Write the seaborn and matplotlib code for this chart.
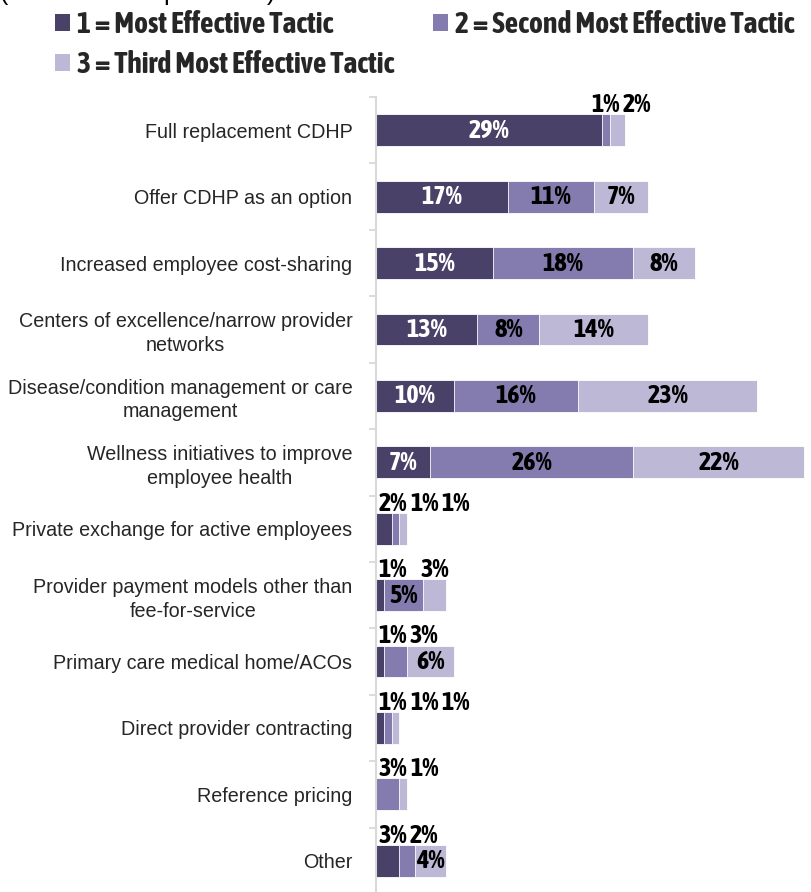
import numpy as np
import matplotlib
matplotlib.use("Agg")
import matplotlib.pyplot as plt
from matplotlib.patches import Patch
from matplotlib import font_manager
import seaborn as sns

# values (percent of respondents)
tactics = [
    "Full replacement CDHP",
    "Offer CDHP as an option",
    "Increased employee cost-sharing",
    "Centers of excellence/narrow provider\nnetworks",
    "Disease/condition management or care\nmanagement",
    "Wellness initiatives to improve\nemployee health",
    "Private exchange for active employees",
    "Provider payment models other than\nfee-for-service",
    "Primary care medical home/ACOs",
    "Direct provider contracting",
    "Reference pricing",
    "Other",
]
most_effective = [29, 17, 15, 13, 10, 7, 2, 1, 1, 1, 0, 3]
second_effective = [1, 11, 18, 8, 16, 26, 1, 5, 3, 1, 3, 2]
third_effective = [2, 7, 8, 14, 23, 22, 1, 3, 6, 1, 1, 4]
series_names = [
    "1 = Most Effective Tactic",
    "2 = Second Most Effective Tactic",
    "3 = Third Most Effective Tactic",
]
colors = ["#4a4169", "#847cae", "#bdb8d5"]

sns.set_theme(style="white")
plt.rcParams["font.family"] = ["Liberation Sans", "DejaVu Sans"]


def pick_narrow_font():
    # the original uses a narrow bold face; use whatever condensed face exists
    entries = font_manager.fontManager.ttflist
    names = {f.name for f in entries}
    if "Liberation Sans Narrow" in names:
        return dict(family="Liberation Sans Narrow"), 1.0
    for f in entries:
        low = f.name.lower()
        if ("condensed" in low or "narrow" in low) and f.weight in ("bold", 700):
            return dict(family=f.name), 1.18
    for f in entries:
        if f.name == "DejaVu Sans" and "condensed" in str(f.stretch) and f.weight in ("bold", 700):
            return dict(fname=f.fname), 0.86
    return dict(family="Liberation Sans"), 0.84


narrow_spec, narrow_scale = pick_narrow_font()


def narrow_props(size):
    spec = dict(narrow_spec)
    if "fname" not in spec:
        spec["weight"] = "bold"
    return font_manager.FontProperties(size=size * narrow_scale, **spec)


fig = plt.figure(figsize=(8.12, 8.92), dpi=100)
W, H = 812, 892
ax = fig.add_axes([376 / W, -2 / H, 436 / W, 797 / H])

s1 = np.array(most_effective)
s2 = s1 + np.array(second_effective)
s3 = s2 + np.array(third_effective)

# stacked bars: draw cumulative totals back to front
for cum, col in zip([s3, s2, s1], colors[::-1]):
    sns.barplot(x=cum, y=tactics, color=col, width=0.48, orient="h",
                ax=ax, saturation=1, edgecolor="white", linewidth=0.6)

ax.set_xlim(0, 56)
ax.set_ylim(len(tactics) - 0.5, -0.5)
ax.set_xlabel("")
ax.set_ylabel("")
ax.set_xticks([])
ax.set_yticks(range(len(tactics)))
ax.set_yticklabels(tactics, fontsize=14.2)
for lbl in ax.get_yticklabels():
    lbl.set_multialignment("center")
    lbl.set_linespacing(1.3)
ax.set_yticks(np.arange(len(tactics) + 1) - 0.5, minor=True)
ax.tick_params(axis="y", which="major", length=0, pad=17)
ax.tick_params(axis="y", which="minor", length=5, width=1.3, color="#d9d9d9", left=True)
for side in ["top", "right", "bottom"]:
    ax.spines[side].set_visible(False)
ax.spines["left"].set_color("#d9d9d9")
ax.spines["left"].set_linewidth(1.5)

vals = [most_effective, second_effective, third_effective]
starts = [np.zeros(len(tactics)), s1, s2]
label_fp = narrow_props(16.0)
above = []
for i in range(len(tactics)):
    row = []
    for k in range(3):
        v = vals[k][i]
        if v == 0:
            continue
        cx = starts[k][i] + v / 2
        if v >= 4:
            ax.text(cx, i, f"{v}%", ha="center", va="center",
                    color="white" if k == 0 else "black", fontproperties=label_fp)
        else:
            t = ax.text(cx, i - 0.385, f"{v}%", ha="left", va="center",
                        color="black", fontproperties=label_fp)
            row.append((t, cx))
    above.append(row)

# spread small labels above the bar so they don't overlap
fig.canvas.draw()
r = fig.canvas.get_renderer()
inv = ax.transData.inverted()
for row in above:
    prev_right = -1e9
    for t, cx in row:
        bb = t.get_window_extent(r)
        w = inv.transform((bb.x1, 0))[0] - inv.transform((bb.x0, 0))[0]
        left = max(cx - w / 2, 0.3, prev_right + 0.4)
        t.set_x(left)
        prev_right = left + w

handles = [Patch(facecolor=c, edgecolor="none") for c in colors]
order = [0, 2, 1]
fig.legend([handles[j] for j in order], [series_names[j] for j in order],
           ncol=2, loc="upper left", bbox_to_anchor=(55 / W, 1 - 10 / H),
           frameon=False, borderpad=0, borderaxespad=0,
           handlelength=0.5, handleheight=0.5, handletextpad=0.24,
           columnspacing=1.3, labelspacing=0.36,
           prop=narrow_props(18.1))

# subtitle cut off at the top edge of the original image
fig.text(0.0, 1.0 + 0.5 / H, "(Percent of respondents)", fontsize=18,
         ha="left", va="baseline", color="black")

fig.savefig("out.png", dpi=100)
